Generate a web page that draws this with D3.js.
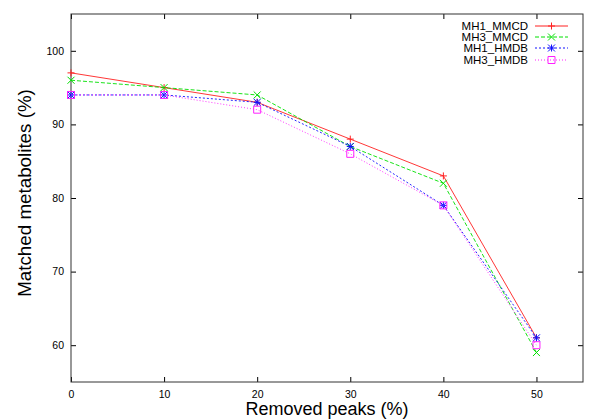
<!DOCTYPE html>
<html><head><meta charset="utf-8">
<script src="https://cdn.jsdelivr.net/npm/d3@7"></script>
<style>body{margin:0;background:#fff}svg{display:block}text{font-family:"Liberation Sans",Arial,sans-serif}</style>
</head><body><svg id="c" width="600" height="420"></svg>
<script>
const xValues = [0, 10, 20, 30, 40, 50];
const seriesNames = ["MH1_MMCD", "MH3_MMCD", "MH1_HMDB", "MH3_HMDB"];
const mh1Mmcd = [97, 95, 93, 88, 83, 61];
const mh3Mmcd = [96, 95, 94, 87, 82, 59];
const mh1Hmdb = [94, 94, 93, 87, 79, 61];
const mh3Hmdb = [94, 94, 92, 86, 79, 60];
const xTicks = [0, 10, 20, 30, 40, 50];
const yTicks = [60, 70, 80, 90, 100];

const series = [
  {name: seriesNames[0], values: mh1Mmcd, color: "#ff2020", dash: null, marker: "plus"},
  {name: seriesNames[1], values: mh3Mmcd, color: "#00e000", dash: "4,2", marker: "cross"},
  {name: seriesNames[2], values: mh1Hmdb, color: "#1010ff", dash: "2,2", marker: "star"},
  {name: seriesNames[3], values: mh3Hmdb, color: "#ff20ff", dash: "1,2", marker: "square"}
];

const svg = d3.select("#c");
const L = 71, R = 583, T = 14, B = 382;
const x = d3.scaleLinear().domain([0, 55]).range([L, R]);
const y = d3.scaleLinear().domain([55, 105]).range([B, T]);

const font = "'Liberation Sans',Arial,sans-serif";
const axB = svg.append("g").attr("transform", `translate(0,${B})`)
  .call(d3.axisBottom(x).tickValues(xTicks).tickSizeInner(-5).tickSizeOuter(0).tickPadding(9));
const axT = svg.append("g").attr("transform", `translate(0,${T})`)
  .call(d3.axisTop(x).tickValues(xTicks).tickSizeInner(-5).tickSizeOuter(0).tickFormat(""));
const axL = svg.append("g").attr("transform", `translate(${L},0)`)
  .call(d3.axisLeft(y).tickValues(yTicks).tickSizeInner(-5).tickSizeOuter(0).tickPadding(7));
const axR = svg.append("g").attr("transform", `translate(${R},0)`)
  .call(d3.axisRight(y).tickValues(yTicks).tickSizeInner(-5).tickSizeOuter(0).tickFormat(""));
[axB, axT, axL, axR].forEach(a => {
  a.select(".domain").remove();
  a.selectAll("line").attr("stroke", "#000");
  a.selectAll("text").attr("font-size", 10.5).attr("fill", "#000").style("font-family", font);
});

svg.append("rect").attr("x", L).attr("y", T).attr("width", R - L).attr("height", B - T)
  .attr("fill", "none").attr("stroke", "#333").attr("stroke-width", 1);

const line = d3.line().x((d, i) => x(xValues[i])).y(d => y(d));

function drawMarker(g, type, cx, cy, color) {
  const s = 3.5;
  const p = g.append("path").attr("fill", "none").attr("stroke", color).attr("stroke-width", 1);
  let d = "";
  if (type === "plus") d = `M${cx-s},${cy}H${cx+s}M${cx},${cy-s}V${cy+s}`;
  else if (type === "cross") d = `M${cx-s},${cy-s}L${cx+s},${cy+s}M${cx-s},${cy+s}L${cx+s},${cy-s}`;
  else if (type === "star") d = `M${cx-s},${cy}H${cx+s}M${cx},${cy-s}V${cy+s}M${cx-s},${cy-s}L${cx+s},${cy+s}M${cx-s},${cy+s}L${cx+s},${cy-s}`;
  else if (type === "square") d = `M${cx-s},${cy-s}H${cx+s}V${cy+s}H${cx-s}Z`;
  p.attr("d", d);
}

series.forEach(s => {
  const g = svg.append("g");
  g.append("path").datum(s.values).attr("d", line).attr("fill", "none")
    .attr("stroke", s.color).attr("stroke-width", 0.9)
    .attr("stroke-dasharray", s.dash);
  s.values.forEach((v, i) => drawMarker(g, s.marker, x(xValues[i]), y(v), s.color));
});

const lg = svg.append("g");
series.forEach((s, i) => {
  const yy = Math.round(25.5 + i * 11.4);
  lg.append("text").attr("x", 528).attr("y", yy).attr("dy", "0.35em")
    .attr("text-anchor", "end").attr("font-size", 11.5).text(s.name);
  lg.append("line").attr("x1", 535).attr("x2", 568).attr("y1", yy).attr("y2", yy)
    .attr("stroke", s.color).attr("stroke-width", 1).attr("stroke-dasharray", s.dash);
  drawMarker(lg, s.marker, 551.5, yy, s.color);
});

svg.append("text").attr("x", (L + R) / 2).attr("y", 415).attr("text-anchor", "middle")
  .attr("font-size", 18).text("Removed peaks (%)");
svg.append("text").attr("transform", `translate(31,193) rotate(-90)`)
  .attr("text-anchor", "middle").attr("font-size", 18.8).text("Matched metabolites (%)");
</script></body></html>
